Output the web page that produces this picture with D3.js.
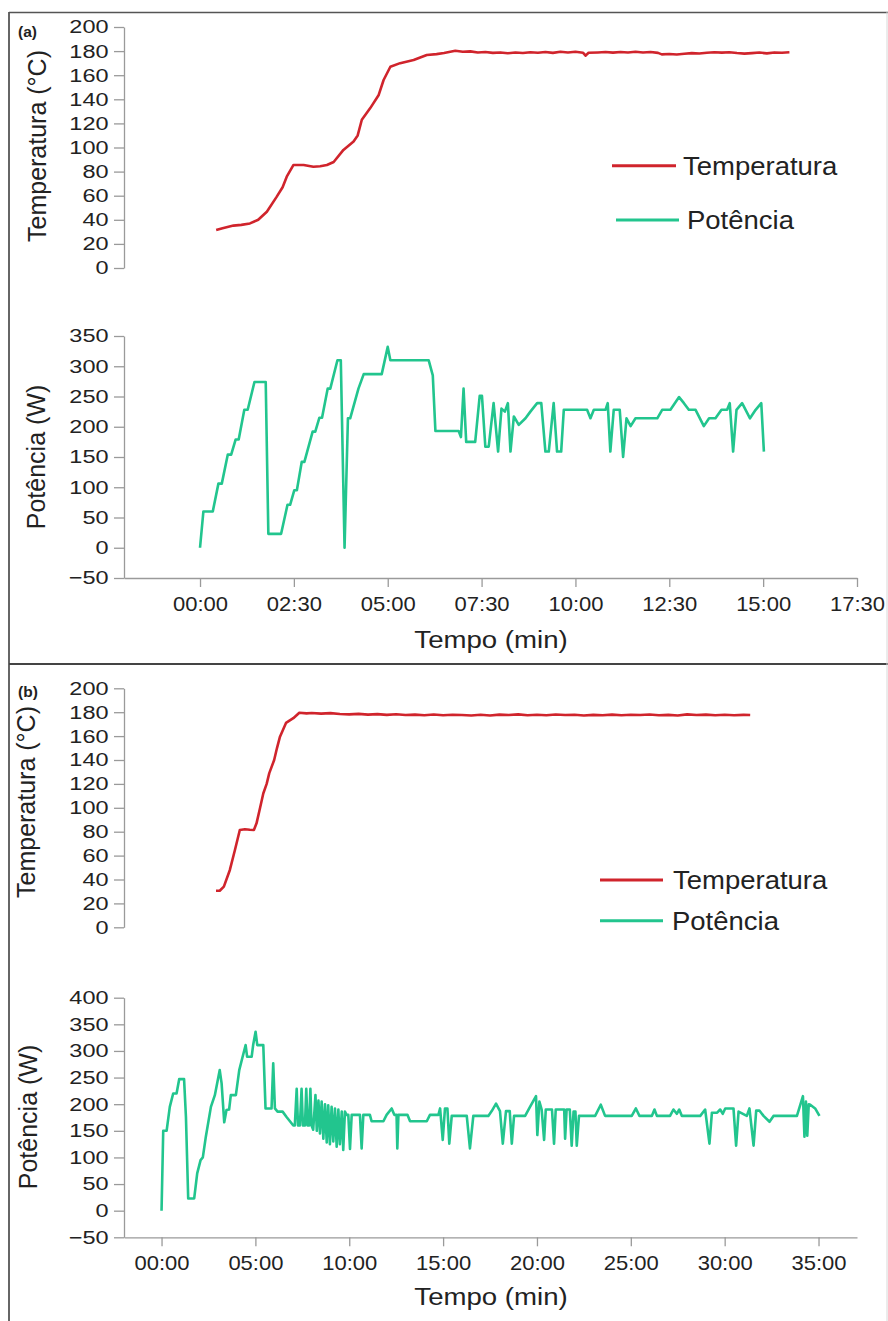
<!DOCTYPE html>
<html><head><meta charset="utf-8">
<script src="https://cdn.jsdelivr.net/npm/d3@7"></script>
<style>
html,body{margin:0;padding:0;background:#fff;}
svg{display:block;}
text{font-family:"Liberation Sans",Arial,sans-serif;fill:#222;}
</style></head>
<body>
<svg id="chart" width="888" height="1321"></svg>
<script>
// ---------------- DATA (time in minutes) ----------------
const tempA = [[0.43,31.5],[0.6,33],[0.89,35.2],[1.1,35.8],[1.33,37],[1.55,40],[1.78,46.7],[2.04,59],[2.2,67],[2.31,75.8],[2.49,85.5],[2.76,85.5],[3.02,84],[3.2,84.5],[3.38,85.5],[3.56,88],[3.82,98],[4.09,105],[4.2,110],[4.31,123],[4.53,132.5],[4.76,143.6],[4.89,156],[5.07,167],[5.33,170],[5.69,172.6],[6.04,176.8],[6.3,177.5],[6.5,178.4],[6.8,180.3],[7.0,179.5],[7.2,179.8],[7.4,178.9],[7.6,179.2],[7.8,178.5],[8.0,178.9],[8.2,178.2],[8.4,178.8],[8.6,178.4],[8.8,179.0],[9.0,178.6],[9.2,179.3],[9.4,178.5],[9.6,179.4],[9.8,178.9],[10.0,179.5],[10.2,178.7],[10.27,176.2],[10.35,178.6],[10.6,178.9],[10.8,179.2],[11.0,178.7],[11.2,179.3],[11.4,178.9],[11.6,179.4],[11.8,178.8],[12.0,179.2],[12.2,178.5],[12.3,177.3],[12.5,177.6],[12.7,177.2],[12.9,177.8],[13.1,178.3],[13.3,178.0],[13.5,178.6],[13.7,179.0],[13.9,178.7],[14.1,179.1],[14.3,178.4],[14.5,177.9],[14.7,178.3],[14.9,178.8],[15.1,178.1],[15.3,178.9],[15.5,178.6],[15.7,179.0]];

const powerA = [[0,0],[0.09,60],[0.34,60],[0.49,106],[0.58,106],[0.74,154],[0.83,154],[0.95,179],[1.03,179],[1.18,228],[1.27,228],[1.45,274],[1.75,274],[1.82,23],[2.16,23],[2.33,71],[2.4,71],[2.51,95],[2.58,95],[2.71,142],[2.78,142],[3.0,192],[3.07,192],[3.18,215],[3.25,215],[3.4,263],[3.47,263],[3.66,310],[3.75,310],[3.85,0],[3.94,214],[4.0,214],[4.22,263],[4.36,287],[4.84,287],[5.0,332],[5.07,310],[6.09,310],[6.2,285],[6.27,193],[6.89,193],[6.95,183],[7.02,263],[7.09,175],[7.33,175],[7.45,251],[7.51,251],[7.6,167],[7.69,167],[7.82,239],[7.94,159],[8.03,230],[8.12,225],[8.2,239],[8.27,159],[8.36,217],[8.49,203],[8.67,214],[8.8,225],[8.98,239],[9.09,239],[9.2,159],[9.29,159],[9.42,239],[9.51,159],[9.62,159],[9.69,228],[10.31,228],[10.4,214],[10.49,228],[10.8,228],[10.86,239],[10.93,159],[11.02,228],[11.18,228],[11.27,150],[11.36,214],[11.47,201],[11.6,214],[12.18,214],[12.31,228],[12.53,228],[12.76,249],[12.89,239],[13.02,228],[13.2,228],[13.42,201],[13.56,214],[13.73,214],[13.89,228],[14.04,228],[14.11,239],[14.2,159],[14.29,228],[14.44,239],[14.65,214],[14.8,228],[14.95,239],[15.02,159]];

const tempB = [[2.9,30.6],[3.1,30.6],[3.32,34],[3.64,48],[3.91,64.7],[4.17,81.4],[4.44,82],[4.7,81.6],[4.92,81.4],[5.06,87],[5.25,100],[5.42,112],[5.6,120],[5.74,129],[6.0,140],[6.15,150],[6.31,159.5],[6.63,171],[7.02,175],[7.34,179.6],[7.73,179],[8.0,179.3],[8.5,178.8],[9.0,179.2],[9.5,178.5],[10.0,178.2],[10.5,178.6],[11.0,178.0],[11.5,178.4],[12.0,177.8],[12.5,178.3],[13.0,177.6],[13.5,178.0],[14.0,177.5],[14.5,178.1],[15.0,177.4],[15.5,177.9],[16.0,177.6],[16.5,177.2],[17.0,177.9],[17.5,177.3],[18.0,178.0],[18.5,177.6],[19.0,178.2],[19.5,177.5],[20.0,177.9],[20.5,177.4],[21.0,178.1],[21.5,177.6],[22.0,177.9],[22.5,177.3],[23.0,177.8],[23.5,177.5],[24.0,178.0],[24.5,177.4],[25.0,177.9],[25.5,177.6],[26.0,178.1],[26.5,177.5],[27.0,177.8],[27.5,177.3],[28.0,178.2],[28.5,177.7],[29.0,178.0],[29.5,177.4],[30.0,177.9],[30.5,177.5],[31.0,177.8],[31.36,177.6]];

const powerB = [[0,0],[0.09,150],[0.27,150],[0.44,195],[0.62,220],[0.8,220],[0.94,247],[1.2,247],[1.3,176],[1.42,23],[1.74,23],[1.9,70],[2.08,95],[2.2,100],[2.36,139],[2.63,195],[2.84,217],[3.1,264],[3.2,239],[3.34,166],[3.46,189],[3.6,190],[3.69,217],[3.96,217],[4.14,264],[4.32,289],[4.48,311],[4.56,289],[4.8,289],[4.88,311],[5.01,336],[5.1,311],[5.42,311],[5.54,192],[5.86,192],[5.95,277],[6.04,192],[6.18,186],[6.45,186],[6.66,176],[7.02,160],[7.1,160],[7.2,229],[7.27,160],[7.37,160],[7.46,229],[7.53,160],[7.64,160],[7.71,229],[7.78,160],[7.86,160],[7.93,229],[7.99,160],[8.08,152],[8.2,217],[8.27,150],[8.36,207],[8.44,145],[8.53,205],[8.62,135],[8.71,200],[8.8,128],[8.88,198],[8.97,125],[9.06,195],[9.15,130],[9.24,192],[9.33,120],[9.42,190],[9.5,125],[9.6,186],[9.68,114],[9.77,186],[9.86,180],[9.95,180],[10.04,116],[10.13,180],[10.57,180],[10.66,117],[10.75,180],[11.1,180],[11.19,168],[11.82,168],[11.99,180],[12.26,192],[12.4,180],[12.52,180],[12.56,117],[12.62,180],[13.1,180],[13.24,168],[14.13,168],[14.3,180],[14.75,180],[14.84,192],[14.98,133],[15.1,192],[15.23,192],[15.33,126],[15.46,178],[16.26,178],[16.43,117],[16.61,178],[17.41,178],[17.59,187],[17.82,201],[18.03,187],[18.18,126],[18.35,187],[18.55,187],[18.66,126],[18.78,178],[19.37,178],[19.63,195],[19.95,215],[20.02,142],[20.13,205],[20.25,190],[20.38,133],[20.47,190],[20.8,190],[20.91,126],[21.0,190],[21.45,190],[21.5,135],[21.58,190],[21.75,190],[21.85,122],[21.95,186],[22.05,186],[22.12,122],[22.24,178],[23.1,178],[23.4,199],[23.63,178],[25.05,178],[25.27,192],[25.46,178],[26.12,178],[26.26,190],[26.39,178],[27.09,178],[27.27,190],[27.45,182],[27.58,190],[27.72,178],[28.7,178],[28.96,190],[29.19,126],[29.32,184],[29.6,184],[29.76,190],[29.9,182],[30.03,192],[30.47,192],[30.61,122],[30.74,186],[31.18,178],[31.32,192],[31.54,122],[31.68,188],[31.85,188],[32.07,178],[32.39,167],[32.6,178],[33.85,178],[34.17,215],[34.25,139],[34.33,205],[34.4,141],[34.48,200],[34.56,199],[34.82,192],[35.05,178]];

const tempTicks = [0,20,40,60,80,100,120,140,160,180,200];
const powerTicksA = [-50,0,50,100,150,200,250,300,350];
const powerTicksB = [-50,0,50,100,150,200,250,300,350,400];
const timeTicksA = [0,2.5,5,7.5,10,12.5,15,17.5];
const timeLabelsA = ["00:00","02:30","05:00","07:30","10:00","12:30","15:00","17:30"];
const timeTicksB = [0,5,10,15,20,25,30,35];
const timeLabelsB = ["00:00","05:00","10:00","15:00","20:00","25:00","30:00","35:00"];
const seriesNames = ["Temperatura","Potência"];
const seriesColors = ["#d0242c","#22c58e"];

// ---------------- DRAW ----------------
const svg = d3.select("#chart");
const AX = "#9a9a9a";

// frame
svg.append("line").attr("x1",9).attr("x2",9).attr("y1",12).attr("y2",1321).attr("stroke","#333").attr("stroke-width",1.5);
svg.append("line").attr("x1",9).attr("x2",888).attr("y1",12.5).attr("y2",12.5).attr("stroke","#555").attr("stroke-width",1.5);
svg.append("line").attr("x1",9).attr("x2",888).attr("y1",664).attr("y2",664).attr("stroke","#444").attr("stroke-width",2.2);
svg.append("line").attr("x1",887).attr("x2",887).attr("y1",12).attr("y2",1321).attr("stroke","#d8d8d8").attr("stroke-width",1);

function styleAxis(g, fs){
  g.select(".domain").attr("stroke",AX).attr("stroke-width",1.3);
  g.selectAll(".tick line").attr("stroke",AX).attr("stroke-width",1.3);
  g.selectAll(".tick text").attr("font-size",fs).attr("fill","#222")
    .attr("font-family","Liberation Sans, Arial, sans-serif");
}

function yAxis(y, ticks, x0){
  const g = svg.append("g").attr("transform",`translate(${x0},0)`)
    .call(d3.axisLeft(y).tickValues(ticks).tickSize(10).tickSizeOuter(0).tickFormat(d3.format("d")));
  styleAxis(g, 18.5);
  const sx = 1.27;
  g.selectAll(".tick text").attr("x", -15.5/sx).attr("transform",`scale(${sx},1)`);
  return g;
}

function xAxis(x, ticks, labels, y0, base){
  const g = svg.append("g").attr("transform",`translate(0,${y0})`)
    .call(d3.axisBottom(x).tickValues(ticks).tickSize(9).tickSizeOuter(0).tickFormat((d,i)=>labels[i]));
  styleAxis(g, 20);
  const sx = 1.1;
  g.selectAll(".tick text").attr("transform",`scale(${sx},1)`).attr("dy",null).attr("y", base - y0);
  return g;
}

function line(x,y){ return d3.line().x(d=>x(d[0])).y(d=>y(d[1])).curve(d3.curveLinear); }

function panel(cfg){
  const x = d3.scaleLinear().domain(cfg.xDomain).range([124,857]);
  const yT = d3.scaleLinear().domain([0,200]).range(cfg.tRange);
  const yP = d3.scaleLinear().domain(cfg.pDomain).range(cfg.pRange);

  yAxis(yT, tempTicks, 124);
  yAxis(yP, cfg.pTicks, 124);
  xAxis(x, cfg.xTicks, cfg.xLabels, cfg.pRange[0], cfg.xLabelBase);

  svg.append("path").datum(cfg.temp).attr("d", line(x,yT)).attr("fill","none")
    .attr("stroke",seriesColors[0]).attr("stroke-width",2.6).attr("stroke-linejoin","round");
  svg.append("path").datum(cfg.power).attr("d", line(x,yP)).attr("fill","none")
    .attr("stroke",seriesColors[1]).attr("stroke-width",2.6).attr("stroke-linejoin","round");

  // panel label
  svg.append("text").attr("x",18).attr("y",cfg.labelY).attr("font-size",15.5).attr("font-weight","bold").text(cfg.label);

  // y titles
  svg.append("text").attr("transform",`translate(${cfg.tTitle[0]},${cfg.tTitle[1]}) rotate(-90)`)
    .attr("text-anchor","middle").attr("font-size",25).text("Temperatura (°C)");
  svg.append("text").attr("transform",`translate(${cfg.pTitle[0]},${cfg.pTitle[1]}) rotate(-90)`)
    .attr("text-anchor","middle").attr("font-size",25).text("Potência (W)");

  // x title
  svg.append("text").attr("transform",`translate(491,${cfg.xTitleBase}) scale(1.15,1)`)
    .attr("text-anchor","middle").attr("font-size",24).text("Tempo (min)");

  // legend
  cfg.legend.forEach((L,i)=>{
    svg.append("line").attr("x1",L[0]).attr("x2",L[1]).attr("y1",L[2]).attr("y2",L[2])
      .attr("stroke",seriesColors[i]).attr("stroke-width",3);
    svg.append("text").attr("transform",`translate(${L[3]},${L[4]}) scale(1.1,1)`)
      .attr("font-size",25).text(seriesNames[i]);
  });
}

panel({
  xDomain:[-2.025,17.5], tRange:[268,27], pDomain:[-50,350], pRange:[578,336],
  pTicks:powerTicksA, xTicks:timeTicksA, xLabels:timeLabelsA, xLabelBase:611.5,
  temp:tempA, power:powerA, label:"(a)", labelY:37,
  tTitle:[46,146], pTitle:[45,457], xTitleBase:648,
  legend:[[612,676,165.7,683,175],[616,679,220,687,229]]
});

panel({
  xDomain:[-2.0,37.05], tRange:[927.3,688.3], pDomain:[-50,400], pRange:[1237.3,997.7],
  pTicks:powerTicksB, xTicks:timeTicksB, xLabels:timeLabelsB, xLabelBase:1270,
  temp:tempB, power:powerB, label:"(b)", labelY:697,
  tTitle:[35,802], pTitle:[37,1117], xTitleBase:1305,
  legend:[[600,663,880,673,888.5],[600,663,920.7,672,929.5]]
});
</script>
</body></html>
